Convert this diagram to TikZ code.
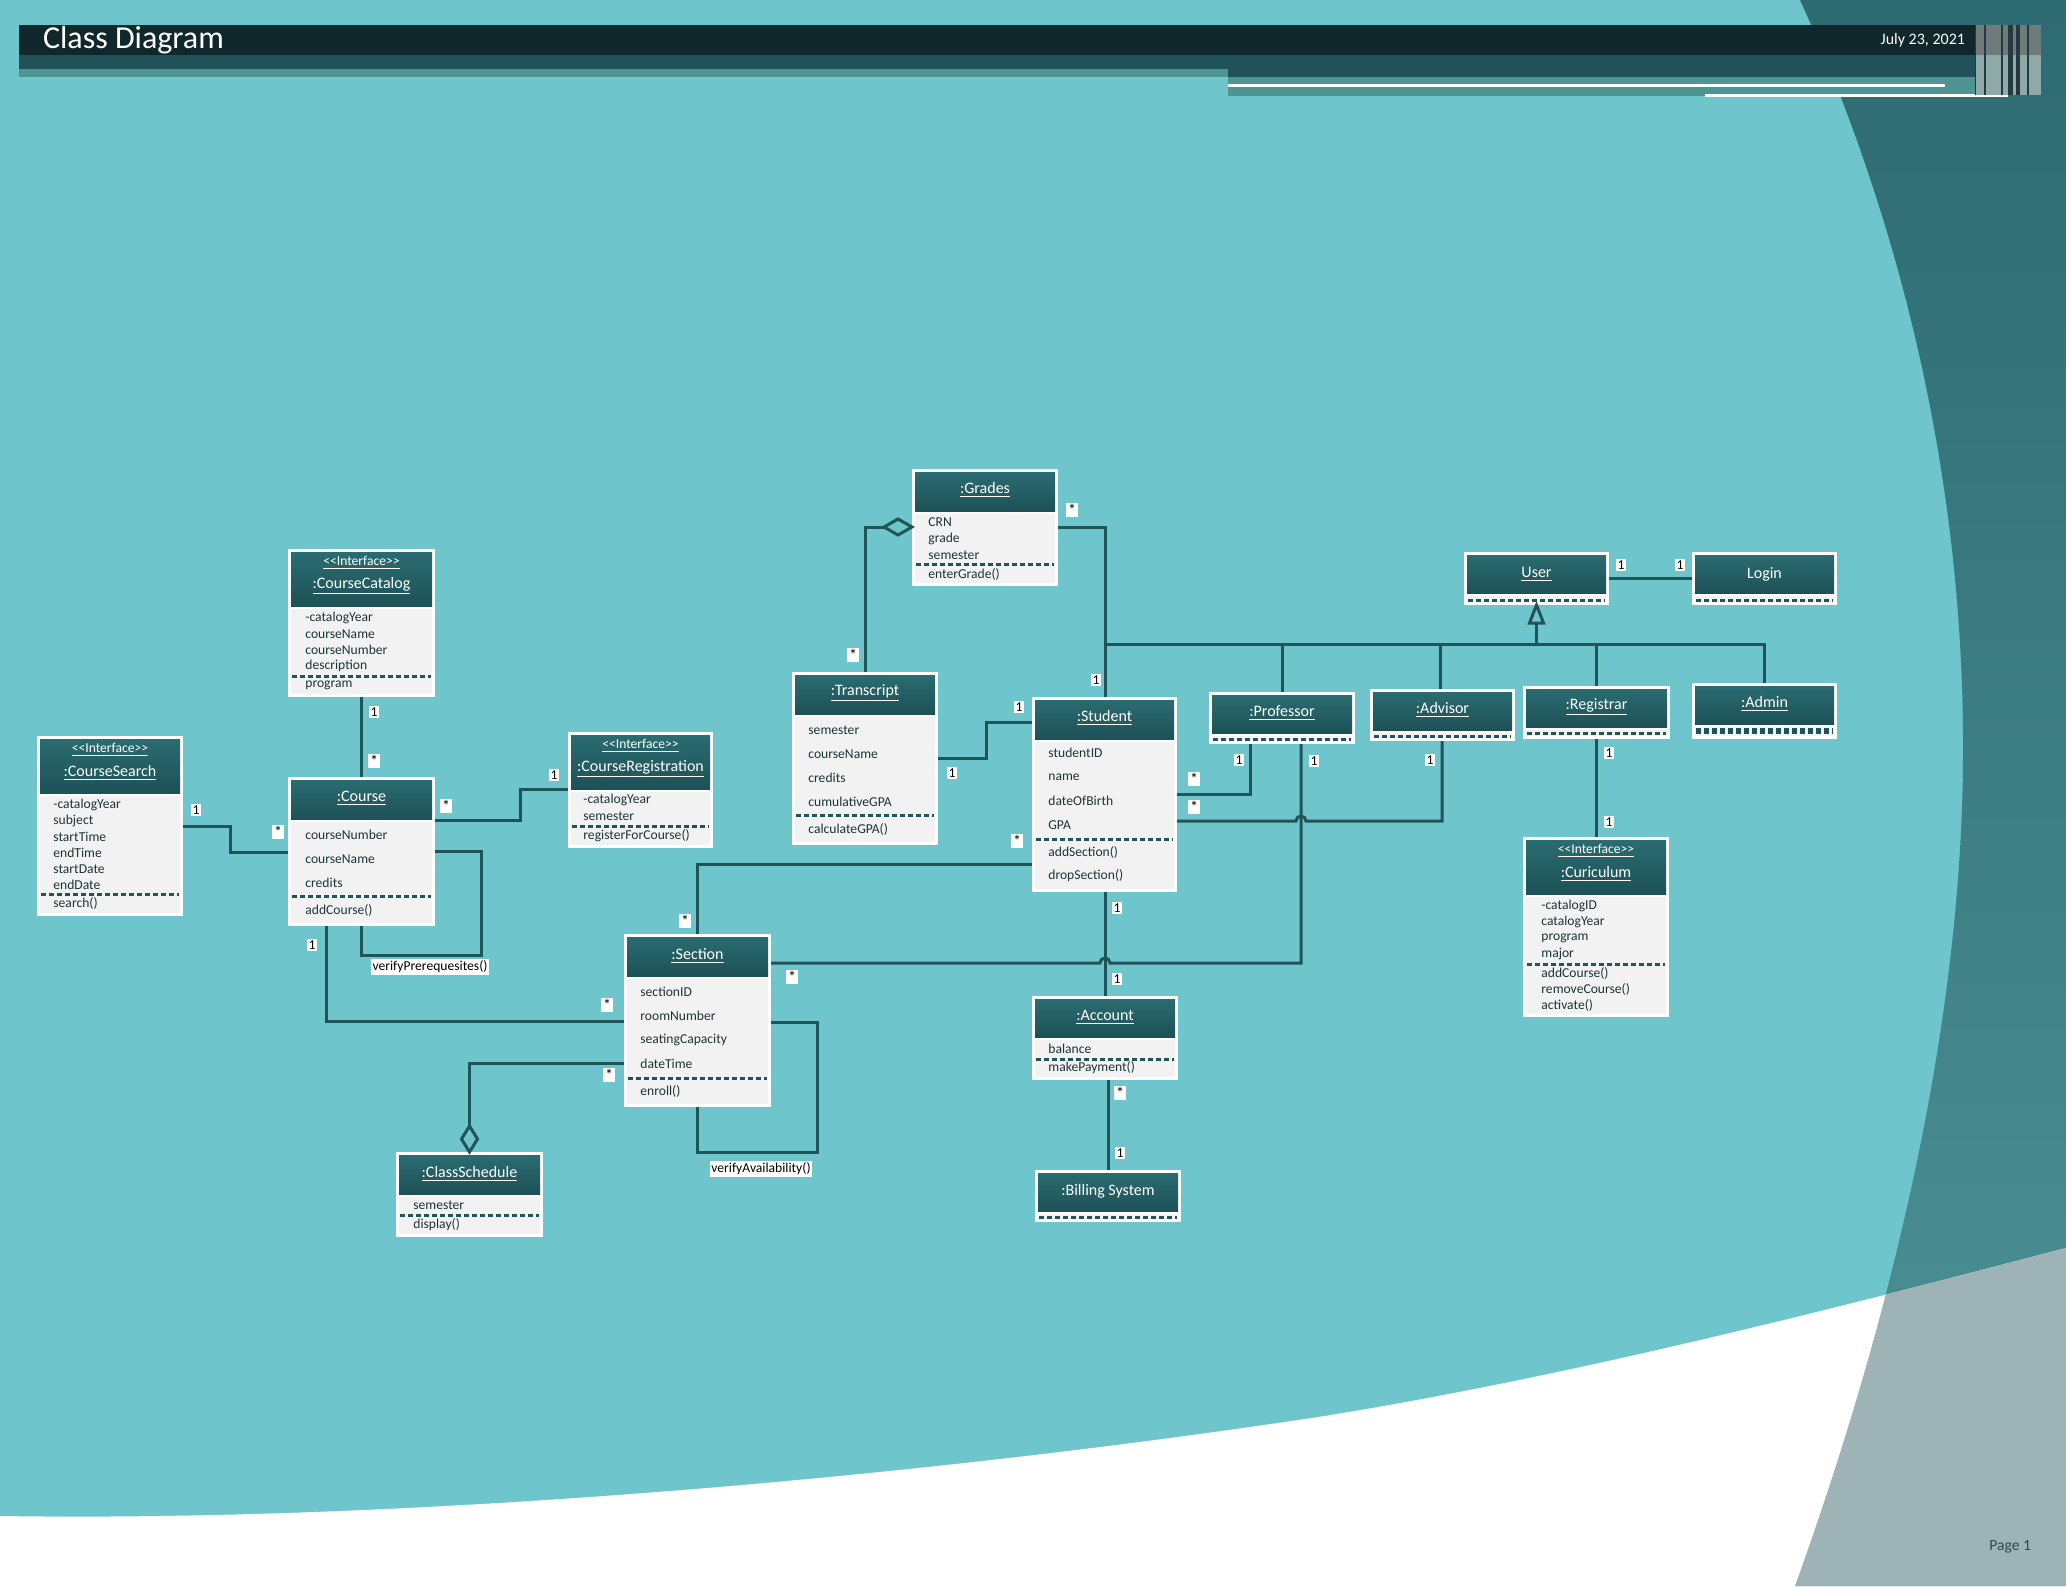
\documentclass[tikz,border=0pt]{standalone}
\usepackage{fontspec}
\setmainfont{Carlito}
\usetikzlibrary{fit}

\definecolor{pagebg}{HTML}{6FC5CC}
\definecolor{bandtop}{HTML}{2E6A72}
\definecolor{bandbot}{HTML}{4E9398}
\definecolor{greyband}{HTML}{9EB3B5}
\definecolor{barblack}{HTML}{10272C}
\definecolor{bardark}{HTML}{1F5259}
\definecolor{barlight}{HTML}{4E9592}
\definecolor{stripedark}{HTML}{243A3F}
\definecolor{stripetop}{HTML}{6F7A7D}
\definecolor{stripebot}{HTML}{8EA9A7}
\definecolor{hdtop}{HTML}{2A6C71}
\definecolor{hdbot}{HTML}{1D5156}
\definecolor{bodygrey}{HTML}{F2F2F2}
\definecolor{wire}{HTML}{1F5458}
\definecolor{txtdark}{HTML}{1E3438}
\definecolor{txtpage}{HTML}{2C4A50}

\tikzset{
  wire/.style={draw=wire, line width=1.5pt},
  frame/.style={fill=white, inner sep=0pt, outer sep=0pt},
  headfill/.style={top color=hdtop, bottom color=hdbot},
  sepline/.style={draw=wire, line width=1.5pt, dash pattern=on 2.5pt off 1.5pt},
  cname/.style={text=white, font=\fontsize{8}{9}\selectfont},
  iface/.style={text=white, font=\fontsize{6.8}{8}\selectfont},
  attr/.style={anchor=west, text=txtdark, inner sep=0pt, font=\fontsize{6.8}{8}\selectfont},
  mult/.style={fill=white, inner sep=0.8pt, text=black, font=\fontsize{6.8}{8}\selectfont},
}

% class box: name, x1, y1, x2, y2, header bottom, separator
\newcommand{\classbox}[7]{%
  \node[frame, fit={(#2,#3) (#4,#5)}] (#1) {};
  \shade[headfill] (#2+3,#3+3) rectangle (#4-3,#6);
  \fill[bodygrey] (#2+3,#6+3) rectangle (#4-3,#5-3);
  \draw[sepline] (#2+4,#7) -- (#4-4,#7);
}
\newcommand{\many}{\raisebox{-0.45ex}{\fontsize{8}{8}\selectfont *}}
\newcommand{\stereo}{\underline{<{}<Interface>{}>}}

\begin{document}
\begin{tikzpicture}[x=0.5pt,y=-0.5pt]
    \useasboundingbox (0,0) rectangle (2066,1586);
    %% page background
    \fill[pagebg] (0,0) rectangle (2066,1586);
    \shade[top color=bandtop, bottom color=bandbot] (1800,0) .. controls (1900,220) and (1965,480) .. (1963,760) .. controls (1961,1050) and (1880,1350) .. (1795,1586) -- (2066,1586) -- (2066,0) -- cycle;
    \fill[white] (0,1516) .. controls (400,1522) and (900,1480) .. (1318,1417) .. controls (1550,1380) and (1800,1318) .. (2066,1248) -- (2066,1586) -- (0,1586) -- cycle;
    \begin{scope}
      \clip (0,1516) .. controls (400,1522) and (900,1480) .. (1318,1417) .. controls (1550,1380) and (1800,1318) .. (2066,1248) -- (2066,1586) -- (0,1586) -- cycle;
      \fill[greyband] (1800,0) .. controls (1900,220) and (1965,480) .. (1963,760) .. controls (1961,1050) and (1880,1350) .. (1795,1586) -- (2066,1586) -- (2066,0) -- cycle;
    \end{scope}
    %% title bar
    \fill[barblack] (19,25) rectangle (1975,55);
    \fill[bardark] (19,55) rectangle (1975,77);
    \fill[barlight] (19,69) rectangle (1228,77);
    \fill[barlight] (1228,77) rectangle (1975,96);
    \fill[white] (1228,84.3) rectangle (1945,86.5);
    \fill[white] (1705,94.3) rectangle (2008,96.5);
    \fill[stripedark] (1975,25) rectangle (2041,95);
    \foreach \a/\b in {1976/1984, 1986/2001, 2003/2008, 2013/2016, 2020/2027, 2029/2041} {
      \fill[stripetop] (\a,25) rectangle (\b,55);
      \fill[stripebot] (\a,55) rectangle (\b,95);
    }
    \node[anchor=west, text=white, font=\fontsize{16}{18}\selectfont] (title) at (36,40) {Class Diagram};
    \node[anchor=east, text=white, font=\fontsize{8}{9}\selectfont] (date) at (1972,40) {July 23, 2021};
    \node[anchor=east, text=txtpage, font=\fontsize{7.8}{9}\selectfont] (page) at (2038,1547) {Page 1};

    %% classes
    \classbox{search}{37}{736}{183}{916}{793}{894}
    \node[iface] at (110,750) {\stereo};
    \node[cname] at (110,773) {\underline{:CourseSearch}};
    \foreach \t/\yy in {-catalogYear/805, subject/821, startTime/837, endTime/853, startDate/869, endDate/885, search()/903}
      \node[attr] at (53,\yy) {\t};

    \classbox{catalog}{288}{549}{435}{697}{606}{676}
    \node[iface] at (361.5,563) {\stereo};
    \node[cname] at (361.5,586) {\underline{:CourseCatalog}};
    \foreach \t/\yy in {-catalogYear/618, courseName/634, courseNumber/650, description/666, program/685}
      \node[attr] at (305,\yy) {\t};

    \classbox{course}{288}{777}{435}{926}{819}{896}
    \node[cname] at (361.5,798) {\underline{:Course}};
    \foreach \t/\yy in {courseNumber/835, courseName/859, credits/883, addCourse()/910}
      \node[attr] at (305,\yy) {\t};

    \classbox{registration}{568}{732}{713}{848}{789}{826}
    \node[iface] at (640.5,746) {\stereo};
    \node[cname] at (640.5,769) {\underline{:CourseRegistration}};
    \foreach \t/\yy in {-catalogYear/800, semester/816, registerForCourse()/836}
      \node[attr] at (583,\yy) {\t};

    \classbox{transcript}{792}{672}{938}{845}{714}{815}
    \node[cname] at (865,693) {\underline{:Transcript}};
    \foreach \t/\yy in {semester/730, courseName/754, credits/778, cumulativeGPA/802, calculateGPA()/829}
      \node[attr] at (808,\yy) {\t};

    \classbox{grades}{912}{469}{1058}{586}{511}{564}
    \node[cname] at (985,490) {\underline{:Grades}};
    \foreach \t/\yy in {CRN/522, grade/539, semester/555, enterGrade()/574}
      \node[attr] at (928,\yy) {\t};

    \classbox{student}{1032}{697}{1177}{892}{739}{839}
    \node[cname] at (1104.5,718) {\underline{:Student}};
    \foreach \t/\yy in {studentID/753, name/777, dateOfBirth/801, GPA/825, addSection()/852, dropSection()/876}
      \node[attr] at (1048,\yy) {\t};

    \classbox{section}{624}{934}{771}{1107}{976}{1078}
    \node[cname] at (697.5,956) {\underline{:Section}};
    \foreach \t/\yy in {sectionID/992, roomNumber/1016, seatingCapacity/1040, dateTime/1064, enroll()/1091}
      \node[attr] at (640,\yy) {\t};

    \classbox{schedule}{396}{1152}{543}{1237}{1194}{1215}
    \node[cname] at (469.5,1174) {\underline{:ClassSchedule}};
    \foreach \t/\yy in {semester/1205, display()/1225}
      \node[attr] at (413,\yy) {\t};

    \classbox{account}{1032}{996}{1178}{1080}{1037}{1059}
    \node[cname] at (1105,1017) {\underline{:Account}};
    \foreach \t/\yy in {balance/1049, makePayment()/1068}
      \node[attr] at (1048,\yy) {\t};

    \classbox{billing}{1035}{1170}{1181}{1222}{1211}{1217}
    \node[cname] at (1108,1191) {:Billing System};

    \classbox{user}{1464}{552}{1609}{605}{593}{600}
    \node[cname] at (1536.5,574) {\underline{User}};
    \classbox{login}{1692}{552}{1837}{605}{593}{600}
    \node[cname] at (1764.5,574) {Login};

    \classbox{professor}{1209}{692}{1355}{744}{733}{739}
    \node[cname] at (1282,713) {\underline{:Professor}};
    \classbox{advisor}{1370}{689}{1515}{741}{730}{736}
    \node[cname] at (1442.5,710) {\underline{:Advisor}};
    \classbox{registrar}{1523}{686}{1670}{739}{727}{733}
    \node[cname] at (1596.5,707) {\underline{:Registrar}};
    \classbox{admin}{1692}{683}{1837}{739}{724}{731}
    \draw[sepline, line width=2.6pt] (1696,731) -- (1833,731);
    \node[cname] at (1764.5,704) {\underline{:Admin}};

    \classbox{curriculum}{1523}{837}{1669}{1017}{894}{964}
    \node[iface] at (1596,851) {\stereo};
    \node[cname] at (1596,874) {\underline{:Curiculum}};
    \foreach \t/\yy in {-catalogID/906, catalogYear/922, program/938, major/954, addCourse()/973, removeCourse()/989, activate()/1005}
      \node[attr] at (1541,\yy) {\t};

    %% associations
    \draw[wire] (search.east |- 0,826) -- (230,826) |- (course.west |- 0,852);
    \node[mult] at (196,810) {1};
    \node[mult] at (278,832) {\many};
    \draw[wire] (catalog.south) -- (course.north);
    \node[mult] at (374,712) {1};
    \node[mult] at (374,761) {\many};
    \draw[wire] (course.east |- 0,820) -- (520,820) |- (registration.west |- 0,789);
    \node[mult] at (446,806) {\many};
    \node[mult] at (554,775) {1};
    \draw[wire] (course.east |- 0,851) -| (481,955) -| (course.south);
    \node[mult] at (430,967) {verifyPrerequesites()};
    \draw[wire] (course.south -| 326,0) |- (section.west |- 0,1021);
    \node[mult] at (312,945) {1};
    \node[mult] at (607,1005) {\many};
    \draw[wire] (section.west |- 0,1063) -| (469.5,1126);
    \draw[wire, fill=pagebg] (schedule.north) -- ++(-8,-13) -- ++(8,-13) -- ++(8,13) -- cycle;
    \node[mult] at (609,1075) {\many};
    \draw[wire] (section.east |- 0,1022) -| (817,1152) -| (section.south);
    \node[mult] at (761,1169) {verifyAvailability()};
    \draw[wire] (section.north) |- (student.west |- 0,864);
    \node[mult] at (685,921) {\many};
    \node[mult] at (1017,841) {\many};
    \draw[wire] (section.east |- 0,963) -- (1100,963) arc[start angle=180, end angle=0, radius=2.5pt] -| (professor.south -| 1301,0);
    \node[mult] at (792,977) {\many};
    \draw[wire, fill=pagebg] (grades.west |- 0,527) -- ++(-14,-8) -- ++(-14,8) -- ++(14,8) -- cycle;
    \draw[wire] (884,527) -| (transcript.north);
    \node[mult] at (853,655) {\many};
    \draw[wire] (grades.east |- 0,527) -| (student.north -| 1105,0);
    \node[mult] at (1072,510) {\many};
    \node[mult] at (1096,680) {1};
    \draw[wire] (transcript.east |- 0,758) -- (986,758) |- (student.west |- 0,722);
    \node[mult] at (952,773) {1};
    \node[mult] at (1019,707) {1};
    \draw[wire] (student.east |- 0,794) -| (professor.south -| 1250,0);
    \node[mult] at (1239,760) {1};
    \node[mult] at (1194,779) {\many};
    \draw[wire] (student.east |- 0,821) -- (1296,821) arc[start angle=180, end angle=0, radius=2.5pt] -| (advisor.south -| 1442,0);
    \node[mult] at (1430,760) {1};
    \node[mult] at (1194,807) {\many};
    \node[mult] at (1314,761) {1};
    \draw[wire] (student.south -| 1105,0) -- (account.north -| 1105,0);
    \node[mult] at (1117,908) {1};
    \node[mult] at (1117,979) {1};
    \draw[wire] (account.south -| 1108,0) -- (billing.north -| 1108,0);
    \node[mult] at (1120,1093) {\many};
    \node[mult] at (1120,1153) {1};
    \draw[wire] (registrar.south -| 1596,0) -- (curriculum.north -| 1596,0);
    \node[mult] at (1609,753) {1};
    \node[mult] at (1609,822) {1};
    \draw[wire] (user.east |- 0,578) -- (login.west |- 0,578);
    \node[mult] at (1621,565) {1};
    \node[mult] at (1680,565) {1};
    %% generalization
    \draw[wire] (1105,644) -| (admin.north);
    \foreach \n/\xx in {professor/1282, advisor/1440, registrar/1596}
      \draw[wire] (\xx,644) -- (\n.north -| \xx,0);
    \draw[wire] (user.south) ++(0,18) -- (user.south |- 0,644);
    \draw[wire, fill=pagebg] (user.south) -- ++(-7,18) -- ++(14,0) -- cycle;
\end{tikzpicture}
\end{document}
